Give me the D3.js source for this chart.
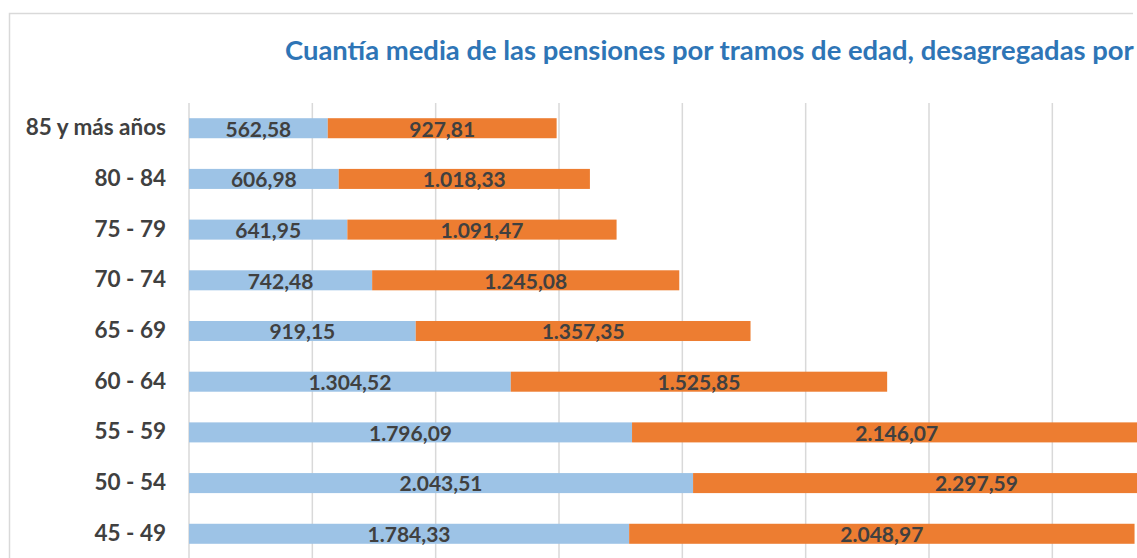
<!DOCTYPE html>
<html>
<head>
<meta charset="utf-8">
<script src="https://cdn.jsdelivr.net/npm/d3@7"></script>
<style>
  html, body { margin: 0; padding: 0; background: #fff; overflow: hidden; }
  svg { display: block; overflow: hidden; }
  text { font-family: Lato, "Open Sans", sans-serif; font-weight: 700; }
</style>
</head>
<body>
<svg id="chart" width="1137" height="558"></svg>
<script>
const categories = ["85 y más años", "80 - 84", "75 - 79", "70 - 74", "65 - 69", "60 - 64", "55 - 59", "50 - 54", "45 - 49"];
const mujeres = [562.58, 606.98, 641.95, 742.48, 919.15, 1304.52, 1796.09, 2043.51, 1784.33];
const hombres = [927.81, 1018.33, 1091.47, 1245.08, 1357.35, 1525.85, 2146.07, 2297.59, 2048.97];
const seriesNames = ["Mujeres", "Hombres"];
const seriesColors = ["#9DC3E6", "#ED7D31"];
const xTicks = [0, 500, 1000, 1500, 2000, 2500, 3000, 3500, 4000];
const title = "Cuantía media de las pensiones por tramos de edad, desagregadas por";

const svg = d3.select("#chart");

const locale = d3.formatLocale({decimal: ",", thousands: ".", grouping: [3], currency: ["", " €"]});
const fmt = locale.format(",.2f");

// frame (top and left edges visible)
svg.append("path")
  .attr("d", "M9.5,600 V13.5 H1133")
  .attr("fill", "none")
  .attr("stroke", "#D9D9D9")
  .attr("stroke-width", 1.5);

// title (fit so it ends just inside the right edge)
const titleText = svg.append("text")
  .attr("x", 285)
  .attr("y", 60)
  .attr("fill", "#2E75B6")
  .attr("font-size", 27)
  .text(title);
const tl = titleText.node().getComputedTextLength();
if (tl > 0) {
  const fs = Math.min(28, 27 * (1134 - 285) / tl);
  titleText.attr("font-size", fs);
}

const x = d3.scaleLinear().domain([0, 4000]).range([189, 189 + 4000 * (370 / 1500)]);
const y = d3.scaleBand().domain(categories).range([103, 559]).paddingInner(0.605).paddingOuter(0.3);

// gridlines
svg.append("g")
  .selectAll("line")
  .data(xTicks)
  .join("line")
  .attr("x1", d => x(d)).attr("x2", d => x(d))
  .attr("y1", 103).attr("y2", 600)
  .attr("stroke", "#D9D9D9")
  .attr("stroke-width", 1.5);

// stacked data
const rows = categories.map((c, i) => ({cat: c, Mujeres: mujeres[i], Hombres: hombres[i]}));
const stack = d3.stack().keys(seriesNames)(rows);

const layers = svg.append("g")
  .selectAll("g")
  .data(stack)
  .join("g")
  .attr("fill", (d, i) => seriesColors[i]);

layers.selectAll("rect")
  .data(d => d)
  .join("rect")
  .attr("x", d => x(d[0]))
  .attr("width", d => x(d[1]) - x(d[0]))
  .attr("y", d => y(d.data.cat))
  .attr("height", y.bandwidth());

// value labels
const labels = svg.append("g");
stack.forEach((layer) => {
  labels.selectAll(null)
    .data(layer)
    .join("text")
    .attr("x", d => (x(d[0]) + x(d[1])) / 2)
    .attr("y", d => y(d.data.cat) + y.bandwidth() / 2 + 8.3)
    .attr("text-anchor", "middle")
    .attr("font-size", 21)
    .attr("fill", "#404040")
    .text(d => fmt(d[1] - d[0]));
});

// category axis labels
svg.append("g")
  .selectAll("text")
  .data(categories)
  .join("text")
  .attr("x", 166)
  .attr("y", d => y(d) + y.bandwidth() / 2 + 7)
  .attr("text-anchor", "end")
  .attr("font-size", 22.5)
  .attr("fill", "#404040")
  .text(d => d);
</script>
</body>
</html>
